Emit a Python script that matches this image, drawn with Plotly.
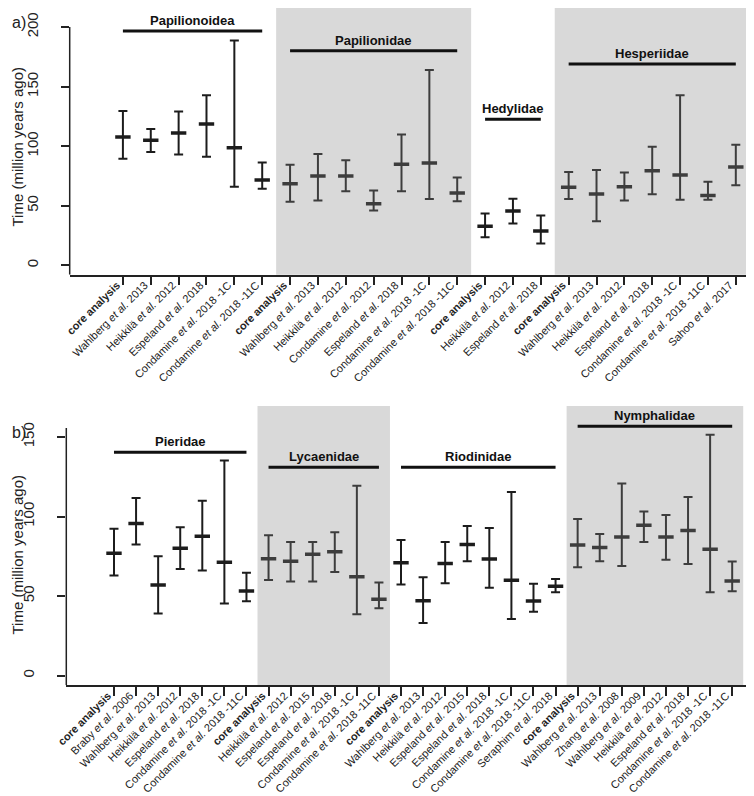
import plotly.graph_objects as go

# ---------------- data: panel a ----------------
labels_a = ["core analysis", "Wahlberg et al. 2013", "Heikkilä et al. 2012", "Espeland et al. 2018",
            "Condamine et al. 2018 -1C", "Condamine et al. 2018 -11C",
            "core analysis", "Wahlberg et al. 2013", "Heikkilä et al. 2012", "Condamine et al. 2012",
            "Espeland et al. 2018", "Condamine et al. 2018 -1C", "Condamine et al. 2018 -11C",
            "core analysis", "Heikkilä et al. 2012", "Espeland et al. 2018",
            "core analysis", "Wahlberg et al. 2013", "Heikkilä et al. 2012", "Espeland et al. 2018",
            "Condamine et al. 2018 -1C", "Condamine et al. 2018 -11C", "Sahoo et al. 2017"]
mean_a = [107.7, 104.9, 111.0, 118.6, 98.7, 71.6,
          68.5, 75.0, 75.0, 51.7, 84.8, 85.9, 60.7,
          32.7, 45.6, 28.8,
          65.5, 59.9, 66.0, 79.4, 75.8, 58.5, 82.5]
low_a = [89.5, 95.1, 93.1, 91.2, 66.0, 64.3,
         53.4, 54.3, 62.1, 45.9, 62.1, 55.7, 53.7,
         23.5, 35.0, 18.2,
         55.7, 36.9, 54.3, 59.6, 55.1, 55.1, 67.1]
high_a = [129.5, 114.4, 129.2, 142.7, 188.8, 86.2,
          84.5, 93.4, 88.1, 62.7, 109.7, 163.9, 73.6,
          43.4, 55.9, 41.7,
          78.3, 80.0, 78.0, 99.6, 142.7, 70.2, 101.3]
groups_a = ["Papilionoidea", "Papilionidae", "Hedylidae", "Hesperiidae"]
sizes_a = [6, 7, 3, 7]
shaded_a = [False, True, False, True]
yticks_a = [0, 50, 100, 150, 200]

# ---------------- data: panel b ----------------
labels_b = ["core analysis", "Braby et al. 2006", "Wahlberg et al. 2013", "Heikkilä et al. 2012",
            "Espeland et al. 2018", "Condamine et al. 2018 -1C", "Condamine et al. 2018 -11C",
            "core analysis", "Heikkilä et al. 2012", "Espeland et al. 2015", "Espeland et al. 2018",
            "Condamine et al. 2018 -1C", "Condamine et al. 2018 -11C",
            "core analysis", "Wahlberg et al. 2013", "Heikkilä et al. 2012", "Espeland et al. 2015",
            "Espeland et al. 2018", "Condamine et al. 2018 -1C", "Condamine et al. 2018 -11C",
            "Seraphim et al. 2018",
            "core analysis", "Wahlberg et al. 2013", "Zhang et al. 2008", "Wahlberg et al. 2009",
            "Heikkilä et al. 2012", "Espeland et al. 2018", "Condamine et al. 2018 -1C",
            "Condamine et al. 2018 -11C"]
mean_b = [76.9, 95.7, 57.0, 80.0, 87.6, 71.2, 53.2,
          73.5, 71.9, 76.3, 77.9, 62.2, 48.0,
          71.0, 47.1, 70.4, 82.5, 73.3, 59.9, 46.9, 56.1,
          82.1, 80.5, 87.2, 94.5, 87.2, 91.3, 79.4, 59.5]
low_b = [62.9, 82.5, 39.0, 67.0, 66.0, 45.3, 46.7,
         60.1, 59.1, 59.1, 65.2, 38.5, 42.3,
         57.2, 33.1, 58.0, 71.9, 55.3, 35.6, 40.2, 52.4,
         68.1, 71.9, 68.9, 84.0, 72.9, 70.2, 52.4, 53.0]
high_b = [92.4, 111.7, 75.0, 93.2, 110.0, 135.3, 64.7,
          88.2, 84.0, 84.0, 90.1, 119.4, 58.5,
          85.3, 61.8, 84.0, 94.1, 92.8, 115.4, 57.8, 60.8,
          98.5, 89.0, 120.7, 103.1, 101.0, 112.3, 151.5, 71.7]
groups_b = ["Pieridae", "Lycaenidae", "Riodinidae", "Nymphalidae"]
sizes_b = [7, 6, 8, 8]
shaded_b = [False, True, False, True]
yticks_b = [0, 50, 100, 150]

# ---------------- layout constants ----------------
W, H = 754, 796
FONT = "Liberation Sans, Arial, sans-serif"
DARK_W = "#1c1c1c"
DARK_G = "#3d3d3d"
SHADE = "#d9d9d9"
LABEL_SHIFT_PX = 6  # horizontal nudge of rotated tick labels

panels = [
    dict(labels=labels_a, mean=mean_a, low=low_a, high=high_a, groups=groups_a, sizes=sizes_a,
         shaded=shaded_a, yticks=yticks_a, xr=[-1.91, 22.94], yr=[-7.9, 216.0],
         dom=[1 - 266.7 / H, 1.0], xdom=[61.7 / W, 1.0], axtop=200,
         glines=[196.6, 180.1, 122.5, 168.9], tag="a)", tagy=15, titley=139),
    dict(labels=labels_b, mean=mean_b, low=low_b, high=high_b, groups=groups_b, sizes=sizes_b,
         shaded=shaded_b, yticks=yticks_b, xr=[-2.16, 29.35], yr=[-6.1, 169.5],
         dom=[1 - 677.3 / H, 1 - 398 / H], xdom=[58.3 / W, 1.0], axtop=155.6,
         glines=[140.4, 131.0, 131.0, 156.7], tag="b)", tagy=425, titley=547),
]


def fmt(lbl):
    if lbl == "core analysis":
        return "<b>core analysis</b>"
    return lbl.replace("et al.", "<i>et al.</i>")


fig = go.Figure()
shapes = []
annotations = []

for p_i, P in enumerate(panels):
    sfx = "" if p_i == 0 else "2"
    lsfx = str(p_i + 3)
    xref, yref = "x" + sfx, "y" + sfx
    start = 0
    for g, n, sh, gl in zip(P["groups"], P["sizes"], P["shaded"], P["glines"]):
        idx = list(range(start, start + n))
        ys = [P["mean"][i] for i in idx]
        up = [P["high"][i] - P["mean"][i] for i in idx]
        dn = [P["mean"][i] - P["low"][i] for i in idx]
        col = DARK_G if sh else DARK_W
        fig.add_trace(go.Scatter(
            x=idx, y=ys, mode="markers", xaxis=xref, yaxis=yref, showlegend=False,
            marker=dict(symbol="line-ew", size=11, line=dict(width=3.5, color=col), color=col),
            error_y=dict(type="data", symmetric=False, array=up, arrayminus=dn,
                         thickness=2, width=4.5, color=col),
        ))
        if sh:
            shapes.append(dict(type="rect", xref=xref, yref=yref + " domain",
                               x0=start - 0.5, x1=start + n - 0.5, y0=0, y1=1,
                               fillcolor=SHADE, line=dict(width=0), layer="below"))
        shapes.append(dict(type="line", xref=xref, yref=yref,
                           x0=start, x1=start + n - 1, y0=gl, y1=gl,
                           line=dict(color="#111111", width=3)))
        annotations.append(dict(x=(start + (start + n - 1)) / 2, y=gl, xref=xref, yref=yref,
                                text="<b>%s</b>" % g, showarrow=False, yanchor="middle",
                                yshift=10.5, font=dict(family=FONT, size=13, color="#111111")))
        start += n

    # left axis line (R style)
    shapes.append(dict(type="line", xref=xref + " domain", yref=yref,
                       x0=0, x1=0, y0=P["yr"][0], y1=P["axtop"],
                       line=dict(color="#222222", width=1.5)))
    annotations.append(dict(x=11 / W, y=1 - P["tagy"] / H, xref="paper", yref="paper",
                            text=P["tag"], showarrow=False, xanchor="center", yanchor="middle",
                            font=dict(family=FONT, size=16, color="#222222")))
    annotations.append(dict(x=8.5 / W, y=1 - P["titley"] / H, xref="paper", yref="paper",
                            text="Time (million years ago)", textangle=-90, showarrow=False,
                            xanchor="center", yanchor="middle",
                            font=dict(family=FONT, size=15, color="#222222")))

    n_cat = len(P["labels"])
    px_per_unit = (P["xdom"][1] - P["xdom"][0]) * W / (P["xr"][1] - P["xr"][0])
    shift = LABEL_SHIFT_PX / px_per_unit

    xa = dict(domain=P["xdom"], range=P["xr"], anchor=yref,
              tickmode="array", tickvals=list(range(n_cat)), showticklabels=False,
              ticks="outside", ticklen=9, tickwidth=1.5, tickcolor="#222222",
              showline=True, linecolor="#222222", linewidth=1.5,
              showgrid=False, zeroline=False, automargin=False)
    xl = dict(domain=P["xdom"], range=P["xr"], anchor=yref, overlaying=xref,
              tickmode="array", tickvals=[i - shift for i in range(n_cat)],
              ticktext=[fmt(l) for l in P["labels"]], tickangle=-45,
              ticks="", showline=False, showgrid=False, zeroline=False, automargin=False,
              ticklabelstandoff=1,
              tickfont=dict(family=FONT, size=11, color="#222222"))
    ya = dict(domain=P["dom"], range=P["yr"], anchor=xref,
              tickmode="array", tickvals=P["yticks"], tickangle=-90,
              ticks="outside", ticklen=8, tickwidth=1.5, tickcolor="#222222",
              showline=False, showgrid=False, zeroline=False, automargin=False,
              ticklabelstandoff=17,
              tickfont=dict(family=FONT, size=15, color="#222222"))
    fig.update_layout(**{"xaxis" + sfx: xa, "yaxis" + sfx: ya, "xaxis" + lsfx: xl})
    # invisible trace to activate the label axis
    fig.add_trace(go.Scatter(x=[], y=[], xaxis="x" + lsfx, yaxis=yref, showlegend=False,
                             hoverinfo="skip"))

fig.update_layout(width=W, height=H, margin=dict(l=0, r=0, t=0, b=0),
                  paper_bgcolor="white", plot_bgcolor="rgba(0,0,0,0)",
                  shapes=shapes, annotations=annotations,
                  font=dict(family=FONT, color="#222222"))

fig.write_html("out.html")
